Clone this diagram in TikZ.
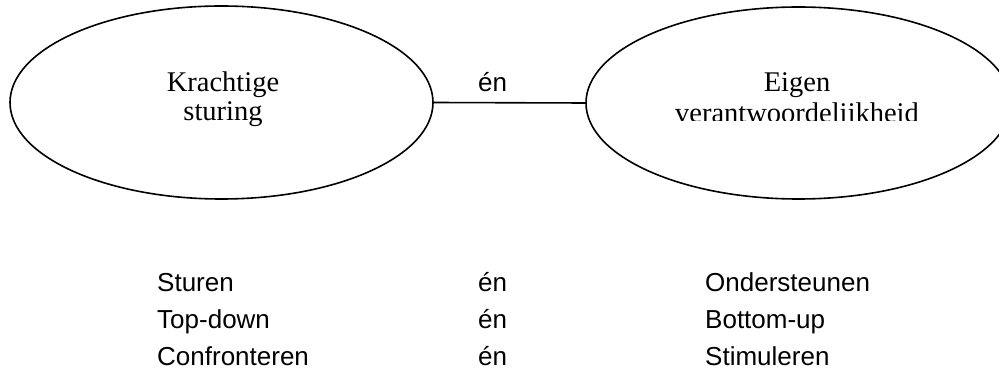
\documentclass[tikz,border=0pt]{standalone}
\usepackage{fontspec}
\setmainfont{Liberation Serif}
\newfontfamily\sansA{Liberation Sans}
\usetikzlibrary{shapes.geometric}
\begin{document}
\begin{tikzpicture}[x=1pt,y=-1pt,
  oval/.style={draw,ellipse,line width=1.6pt,inner sep=0pt,outer sep=0pt},
  conn/.style={line width=1.6pt},
  serifText/.style={font=\fontsize{28.5}{30}\selectfont,inner sep=0pt,anchor=base},
  sansText/.style={font=\sansA\fontsize{26}{29}\selectfont,inner sep=0pt,anchor=base west},
]
\useasboundingbox (0,0) rectangle (999,379);
\clip (0,0) rectangle (999,379);
\node[oval,minimum width=423pt,minimum height=193pt] (L) at (221.5,102.5) {};
\node[oval,minimum width=425pt,minimum height=192pt] (R) at (798.5,103) {};
\draw[conn] (L.east) -- (R.west);
\node[sansText] (en0) at (478,91.7) {én};
\node[serifText] (k1) at (223,91.5) {Krachtige};
\node[serifText] (k2) at (223,121) {sturing};
\node[serifText] (e1) at (797,91.7) {Eigen};
\begin{scope}
\clip (600,0) rectangle (999,121);
\node[serifText] (e2) at (797,123) {verantwoordelijkheid};
\end{scope}
\node[sansText] (a1) at (157,292) {Sturen};
\node[sansText] (b1) at (478,292) {én};
\node[sansText] (c1) at (705,292) {Ondersteunen};
\node[sansText] (a2) at (157,329) {Top-down};
\node[sansText] (b2) at (478,329) {én};
\node[sansText] (c2) at (705,329) {Bottom-up};
\node[sansText] (a3) at (157,366) {Confronteren};
\node[sansText] (b3) at (478,366) {én};
\node[sansText] (c3) at (705,366) {Stimuleren};
\end{tikzpicture}
\end{document}
